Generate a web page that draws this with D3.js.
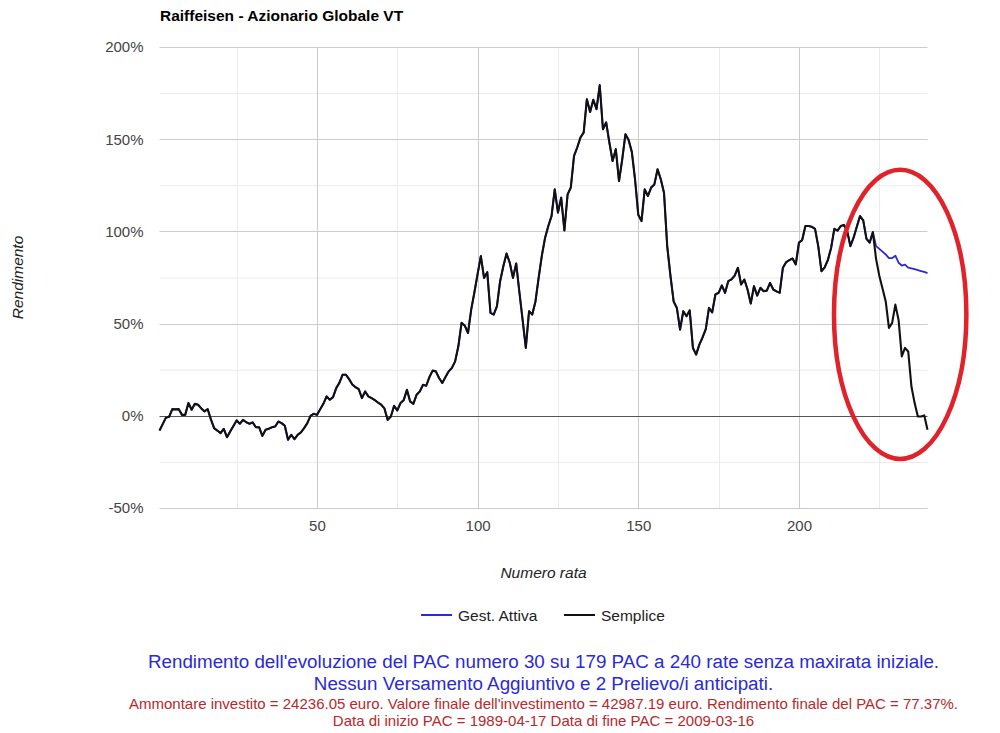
<!DOCTYPE html>
<html><head><meta charset="utf-8">
<script src="https://cdn.jsdelivr.net/npm/d3@7"></script>
<style>
body{margin:0;background:#fff}
svg{display:block;font-family:"Liberation Sans",Arial,sans-serif}
</style>
</head><body>
<svg id="chart" width="1000" height="733"></svg>
<script>
const chartTitle = "Raiffeisen - Azionario Globale VT";
const seriesNames = ["Gest. Attiva", "Semplice"];
const xTitle = "Numero rata";
const yTitle = "Rendimento";

// Rendimento (%) per rata 1..240
const semplice = [
  -8, -4.5, -1, -0.5, 3.6, 3.5, 3.6, 0.5, 0.5, 6.9,
  3.3, 6.5, 6, 4, 2.4, 3.6, -2, -6.7, -8, -9.4,
  -7.1, -11.6, -8.5, -5.5, -2.5, -4.3, -2.2, -3.5, -4.3, -3.6,
  -6.2, -6.2, -10.9, -7.6, -7, -6.2, -5.8, -3.1, -4, -5.4,
  -13, -10.3, -12.7, -10.3, -9, -6.7, -4, 0, 1.1, 0.5,
  3.5, 6.5, 10.5, 8.7, 10.1, 15, 18, 22.3, 22.3, 19.9,
  17, 15.5, 14.5, 9.6, 13.2, 10.5, 9.6, 8.5, 7.2, 6,
  4, -2.2, -0.4, 5.4, 2.9, 6.9, 8.5, 14.1, 7.8, 6.5,
  11.4, 13.2, 16.8, 16.3, 21, 24.5, 24.1, 20.5, 17.8, 21,
  24.1, 26, 29.5, 37.7, 50.4, 48.9, 44.9, 57.6, 67, 77,
  86.6, 74.8, 77.9, 55.8, 54.9, 59.4, 73, 81.1, 88, 83,
  74.8, 82.6, 67, 52, 36.8, 56.7, 54.9, 62, 75, 87,
  96.6, 102.9, 108.3, 122.8, 110.2, 118.3, 100.5, 120.1, 123.8, 140.9,
  145.5, 150.9, 153.6, 171.7, 164.8, 171.4, 166.3, 179.3, 155.4, 159.1,
  148.2, 138.2, 144.6, 127.3, 139.1, 152.7, 149.5, 143, 128, 109,
  105.6, 122.8, 119.2, 123.8, 125.5, 133.7, 128.3, 121, 92, 76,
  62, 58.5, 46.7, 56.7, 54, 57.2, 36.8, 33.2, 38.6, 42.5,
  47, 58.5, 56.1, 65.8, 66.7, 70.7, 66.7, 73, 74, 76,
  80.3, 71.2, 73.9, 68.5, 60.9, 70.3, 65.2, 69.4, 67.6, 67.9,
  72.1, 68.5, 67.5, 66.7, 80.3, 83.3, 84.4, 85.3, 82.1, 93.9,
  95.3, 102.9, 102.9, 102.5, 101.4, 92, 78.4, 80.5, 84.5, 91,
  101.4, 100.4, 102.9, 103.5, 100.2, 92, 96.6, 102.5, 108.3, 106,
  96, 93.9, 99.6, 85, 76, 69, 62, 47.7, 50.4, 60.3,
  52, 32.2, 36.8, 34.9, 15.9, 6.9, -0.4, -0.4, 0.2, -7.6
];
const gestAttiva = [
  -8, -4.5, -1, -0.5, 3.6, 3.5, 3.6, 0.5, 0.5, 6.9,
  3.3, 6.5, 6, 4, 2.4, 3.6, -2, -6.7, -8, -9.4,
  -7.1, -11.6, -8.5, -5.5, -2.5, -4.3, -2.2, -3.5, -4.3, -3.6,
  -6.2, -6.2, -10.9, -7.6, -7, -6.2, -5.8, -3.1, -4, -5.4,
  -13, -10.3, -12.7, -10.3, -9, -6.7, -4, 0, 1.1, 0.5,
  3.5, 6.5, 10.5, 8.7, 10.1, 15, 18, 22.3, 22.3, 19.9,
  17, 15.5, 14.5, 9.6, 13.2, 10.5, 9.6, 8.5, 7.2, 6,
  4, -2.2, -0.4, 5.4, 2.9, 6.9, 8.5, 14.1, 7.8, 6.5,
  11.4, 13.2, 16.8, 16.3, 21, 24.5, 24.1, 20.5, 17.8, 21,
  24.1, 26, 29.5, 37.7, 50.4, 48.9, 44.9, 57.6, 67, 77,
  86.6, 74.8, 77.9, 55.8, 54.9, 59.4, 73, 81.1, 88, 83,
  74.8, 82.6, 67, 52, 36.8, 56.7, 54.9, 62, 75, 87,
  96.6, 102.9, 108.3, 122.8, 110.2, 118.3, 100.5, 120.1, 123.8, 140.9,
  145.5, 150.9, 153.6, 171.7, 164.8, 171.4, 166.3, 179.3, 155.4, 159.1,
  148.2, 138.2, 144.6, 127.3, 139.1, 152.7, 149.5, 143, 128, 109,
  105.6, 122.8, 119.2, 123.8, 125.5, 133.7, 128.3, 121, 92, 76,
  62, 58.5, 46.7, 56.7, 54, 57.2, 36.8, 33.2, 38.6, 42.5,
  47, 58.5, 56.1, 65.8, 66.7, 70.7, 66.7, 73, 74, 76,
  80.3, 71.2, 73.9, 68.5, 60.9, 70.3, 65.2, 69.4, 67.6, 67.9,
  72.1, 68.5, 67.5, 66.7, 80.3, 83.3, 84.4, 85.3, 82.1, 93.9,
  95.3, 102.9, 102.9, 102.5, 101.4, 92, 78.4, 80.5, 84.5, 91,
  101.4, 100.4, 102.9, 103.5, 100.2, 92, 96.6, 102.5, 108.3, 106,
  96, 93.9, 99.6, 92, 90.5, 89, 87.5, 85.5, 85.5, 86.8,
  83, 81.5, 82, 80.3, 80, 79.5, 79, 78.5, 78, 77.37
];

const yTicks = [-50, 0, 50, 100, 150, 200];
const yMinorTicks = [-25, 25, 75, 125, 175];
const xTicks = [50, 100, 150, 200];
const xMinorTicks = [25, 75, 125, 175, 225];

// highlighted region (data coordinates): centre rata, centre %, half-width rate, half-height %
const highlight = {cx: 231.5, cy: 55, rx: 20.6, ry: 78.4};

const footerBlue = [
  "Rendimento dell'evoluzione del PAC numero 30 su 179 PAC a 240 rate senza maxirata iniziale.",
  "Nessun Versamento Aggiuntivo e 2 Prelievo/i anticipati."
];
const footerRed = [
  "Ammontare investito = 24236.05 euro. Valore finale dell'investimento = 42987.19 euro. Rendimento finale del PAC = 77.37%.",
  "Data di inizio PAC = 1989-04-17 Data di fine PAC = 2009-03-16"
];

const colors = {"Gest. Attiva": "#2b2bd0", "Semplice": "#111111"};

const svg = d3.select("#chart");
const plot = {left: 159.5, right: 927.5, top: 47, bottom: 508};

const x = d3.scaleLinear().domain([1, 240]).range([plot.left, plot.right]);
const y = d3.scaleLinear().domain([-50, 200]).range([plot.bottom, plot.top]);

// minor gridlines
svg.append("g").selectAll("line").data(yMinorTicks).join("line")
  .attr("x1", plot.left).attr("x2", plot.right)
  .attr("y1", d => y(d) + 0.5).attr("y2", d => y(d) + 0.5)
  .attr("stroke", "#ebebeb").attr("stroke-width", 1);
svg.append("g").selectAll("line").data(xMinorTicks).join("line")
  .attr("x1", d => Math.round(x(d)) + 0.5).attr("x2", d => Math.round(x(d)) + 0.5)
  .attr("y1", plot.top).attr("y2", plot.bottom)
  .attr("stroke", "#ebebeb").attr("stroke-width", 1);

// major gridlines
svg.append("g").selectAll("line").data(yTicks.filter(d => d !== 0)).join("line")
  .attr("x1", plot.left).attr("x2", plot.right)
  .attr("y1", d => Math.round(y(d)) + 0.5).attr("y2", d => Math.round(y(d)) + 0.5)
  .attr("stroke", "#cccccc").attr("stroke-width", 1);
svg.append("g").selectAll("line").data(xTicks).join("line")
  .attr("x1", d => Math.round(x(d)) + 0.5).attr("x2", d => Math.round(x(d)) + 0.5)
  .attr("y1", plot.top).attr("y2", plot.bottom)
  .attr("stroke", "#cccccc").attr("stroke-width", 1);

// y axis labels
const yAxis = d3.axisLeft(y).tickValues(yTicks).tickSize(0).tickPadding(0)
  .tickFormat(d => d + "%");
const gy = svg.append("g").attr("transform", `translate(${plot.left - 16},0)`).call(yAxis);
gy.select(".domain").remove();
gy.selectAll("text").attr("font-size", "15px").attr("fill", "#444")
  .attr("font-family", "'Liberation Sans', Arial, sans-serif");

// x axis labels
const xAxis = d3.axisBottom(x).tickValues(xTicks).tickSize(0).tickPadding(0);
const gx = svg.append("g").attr("transform", `translate(0,${plot.bottom + 12})`).call(xAxis);
gx.select(".domain").remove();
gx.selectAll("text").attr("font-size", "15px").attr("fill", "#444")
  .attr("font-family", "'Liberation Sans', Arial, sans-serif");

// baseline at 0%
svg.append("line")
  .attr("x1", plot.left).attr("x2", plot.right)
  .attr("y1", Math.round(y(0)) + 0.5).attr("y2", Math.round(y(0)) + 0.5)
  .attr("stroke", "#555").attr("stroke-width", 1);

// lines
const series = [
  {name: "Gest. Attiva", values: gestAttiva, width: 1.8},
  {name: "Semplice", values: semplice, width: 2.1}
];
const line = d3.line().x((d, i) => x(i + 1)).y(d => y(d));
svg.append("g").selectAll("path").data(series).join("path")
  .attr("d", s => line(s.values))
  .attr("fill", "none")
  .attr("stroke", s => colors[s.name])
  .attr("stroke-width", s => s.width)
  .attr("stroke-linejoin", "round");

// title
svg.append("text").attr("x", plot.left + 0.5).attr("y", 21)
  .attr("font-size", "15.5px").attr("font-weight", "bold").attr("fill", "#000")
  .text(chartTitle);

// axis titles
svg.append("text")
  .attr("x", (plot.left + plot.right) / 2).attr("y", 578)
  .attr("text-anchor", "middle").attr("font-size", "15.5px")
  .attr("font-style", "italic").attr("fill", "#222").text(xTitle);
svg.append("text")
  .attr("transform", `translate(23,${(plot.top + plot.bottom) / 2}) rotate(-90)`)
  .attr("text-anchor", "middle").attr("font-size", "15.5px")
  .attr("font-style", "italic").attr("fill", "#222").text(yTitle);

// legend
const legendItems = [
  {name: "Gest. Attiva", x0: 421},
  {name: "Semplice", x0: 564}
];
const lg = svg.append("g").selectAll("g").data(legendItems).join("g")
  .attr("transform", d => `translate(${d.x0},615)`);
lg.append("line").attr("x1", 0).attr("x2", 31).attr("y1", 0).attr("y2", 0)
  .attr("stroke", d => colors[d.name]).attr("stroke-width", 2);
lg.append("text").attr("x", 37).attr("y", 5.5).attr("font-size", "15.5px")
  .attr("fill", "#222").text(d => d.name);

// highlight ellipse
svg.append("ellipse")
  .attr("cx", x(highlight.cx)).attr("cy", y(highlight.cy))
  .attr("rx", x(highlight.cx + highlight.rx) - x(highlight.cx))
  .attr("ry", y(highlight.cy - highlight.ry) - y(highlight.cy))
  .attr("fill", "none").attr("stroke", "#e0222a").attr("stroke-width", 4.5);

// footer
const cx = (plot.left + plot.right) / 2;
svg.append("g").selectAll("text").data(footerBlue).join("text")
  .attr("x", cx).attr("y", (d, i) => 668 + i * 21.5)
  .attr("text-anchor", "middle").attr("font-size", "18.8px").attr("fill", "#2a2ad6")
  .text(d => d);
svg.append("g").selectAll("text").data(footerRed).join("text")
  .attr("x", cx).attr("y", (d, i) => 709 + i * 17)
  .attr("text-anchor", "middle").attr("font-size", "15px").attr("fill", "#b8282c")
  .text(d => d);
</script>
</body></html>
